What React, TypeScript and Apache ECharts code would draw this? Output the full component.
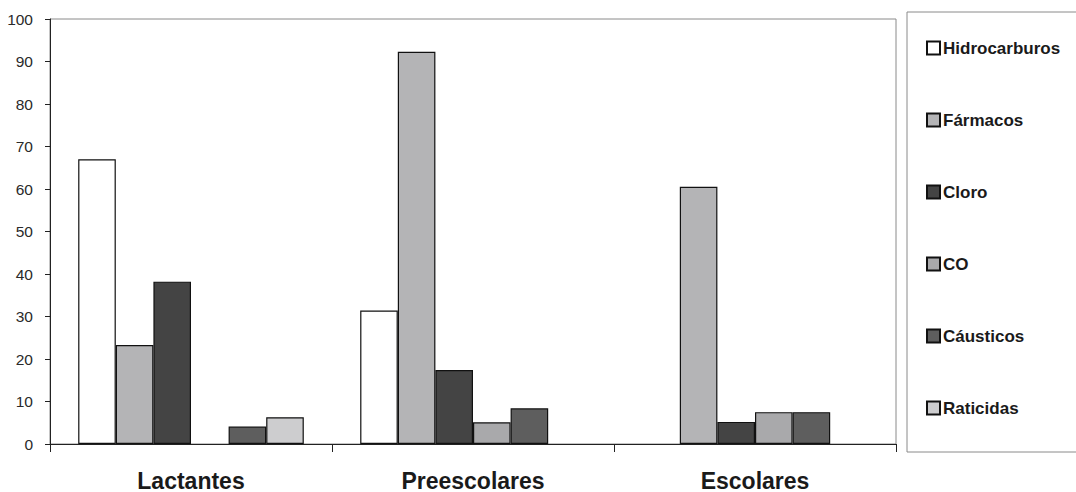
import React, { useEffect, useRef } from "react";
import * as echarts from "echarts";

const categories = ["Lactantes", "Preescolares", "Escolares"];
const seriesNames = ["Hidrocarburos", "Fármacos", "Cloro", "CO", "Cáusticos", "Raticidas"];
const hidrocarburos = [67, 31.4, null];
const farmacos = [23.3, 92.3, 60.5];
const cloro = [38.2, 17.4, 5.2];
const co = [null, 5.1, 7.5];
const causticos = [4.1, 8.4, 7.5];
const raticidas = [6.3, null, null];
const yTicks = [0, 10, 20, 30, 40, 50, 60, 70, 80, 90, 100];

const seriesValues = [hidrocarburos, farmacos, cloro, co, causticos, raticidas];
const seriesColors = ["#ffffff", "#b4b4b6", "#444444", "#a9a9ab", "#5e5e5e", "#cdcdcf"];

export default function App() {
  const ref = useRef<HTMLDivElement>(null);
  useEffect(() => {
    if (!ref.current) return;
    const chart = echarts.init(ref.current, undefined, { renderer: "svg" });
    chart.setOption({
      animation: false,
      backgroundColor: "#ffffff",
      textStyle: { fontFamily: "Liberation Sans, Arial, sans-serif" },
      grid: {
        left: 50,
        top: 19,
        right: 180,
        bottom: 48,
        show: true,
        borderColor: "#8a8a8a",
        borderWidth: 1,
      },
      legend: {
        orient: "vertical",
        left: 921,
        top: 34,
        itemWidth: 13,
        itemHeight: 13,
        itemGap: 54,
        icon: "rect",
        data: seriesNames,
        textStyle: {
          fontSize: 17,
          fontWeight: "bold",
          color: "#1a1a1a",
          lineHeight: 18,
          padding: [0, 0, 0, -2],
        },
      },
      graphic: [
        {
          type: "rect",
          shape: { x: 907, y: 12, width: 180, height: 440 },
          style: { fill: "none", stroke: "#8a8a8a", lineWidth: 1 },
          silent: true,
        },
      ],
      xAxis: {
        type: "category",
        data: categories,
        axisLine: { show: true, lineStyle: { color: "#222", width: 1 } },
        axisTick: { show: true, alignWithLabel: false, length: 8, lineStyle: { color: "#222" } },
        axisLabel: { fontSize: 23, fontWeight: "bold", color: "#1a1a1a", margin: 25 },
        splitLine: { show: false },
      },
      yAxis: {
        type: "value",
        min: yTicks[0],
        max: yTicks[yTicks.length - 1],
        interval: 10,
        axisLine: { show: true, lineStyle: { color: "#222", width: 1 } },
        axisTick: { show: true, length: 5, lineStyle: { color: "#222" } },
        axisLabel: { fontSize: 15.5, color: "#2a2a2a", margin: 17 },
        splitLine: { show: false },
      },
      series: seriesNames.map((name, i) => ({
        name,
        type: "bar",
        data: seriesValues[i],
        barGap: "0%",
        barCategoryGap: "20%",
        itemStyle: {
          color: seriesColors[i],
          borderColor: "#111",
          borderWidth: 1.2,
        },
      })),
    });
    return () => chart.dispose();
  }, []);
  return (
    <div
      ref={ref}
      style={{ position: "fixed", left: 0, top: 0, width: 1076, height: 492 }}
    />
  );
}
